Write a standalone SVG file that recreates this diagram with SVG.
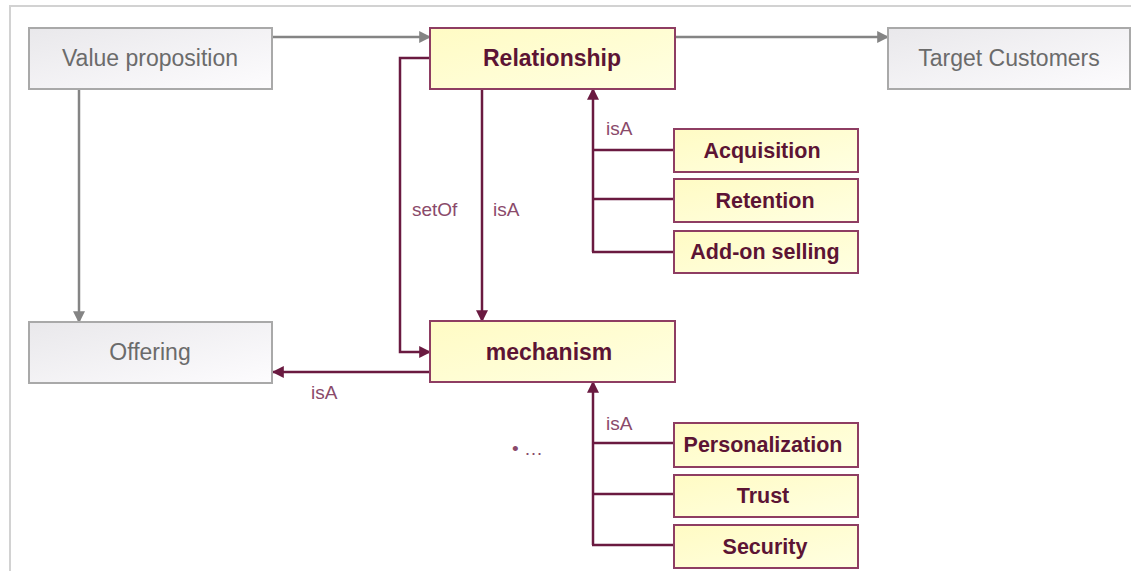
<svg xmlns="http://www.w3.org/2000/svg" width="1131" height="571" viewBox="0 0 1131 571">
  <defs>
    <linearGradient id="gGray" x1="0" y1="0" x2="1" y2="1">
      <stop offset="0" stop-color="#e9e8eb"/>
      <stop offset="1" stop-color="#fdfcfe"/>
    </linearGradient>
    <linearGradient id="gYellow" x1="0" y1="0" x2="1" y2="1">
      <stop offset="0" stop-color="#fffbc4"/>
      <stop offset="1" stop-color="#ffffe2"/>
    </linearGradient>
    <marker id="arrGray" viewBox="0 0 10 10" refX="9" refY="5" markerWidth="12" markerHeight="12" markerUnits="userSpaceOnUse" orient="auto">
      <path d="M0,0 L10,5 L0,10 z" fill="#848484"/>
    </marker>
    <marker id="arrRed" viewBox="0 0 10 10" refX="9" refY="5" markerWidth="12" markerHeight="12" markerUnits="userSpaceOnUse" orient="auto">
      <path d="M0,0 L10,5 L0,10 z" fill="#6a1a40"/>
    </marker>
  </defs>
  <style>
    .frame { fill: none; stroke: #d2d2d2; stroke-width: 2; }
    .grayBox { fill: url(#gGray); stroke: #a9a9a9; stroke-width: 2; }
    .yelBox { fill: url(#gYellow); stroke: #8e3d62; stroke-width: 2; }
    .grayTxt { font-family: "Liberation Sans", Arial, sans-serif; font-size: 23px; fill: #6b6b6b; text-anchor: middle; }
    .bigTxt { font-family: "Liberation Sans", Arial, sans-serif; font-size: 23px; font-weight: bold; fill: #5c1434; text-anchor: middle; }
    .smTxt { font-family: "Liberation Sans", Arial, sans-serif; font-size: 21.5px; font-weight: bold; fill: #5c1434; text-anchor: middle; }
    .lbl { font-family: "Liberation Sans", Arial, sans-serif; font-size: 19px; fill: #8a4a6a; }
    .gline { fill: none; stroke: #848484; stroke-width: 2.5; }
    .rline { fill: none; stroke: #6a1a40; stroke-width: 2.5; }
  </style>

  <rect width="1131" height="571" fill="#ffffff"/>
  <!-- outer frame: top and left edges only -->
  <path class="frame" d="M10,571 V6 H1131"/>

  <g id="connectors">
    <path class="gline" d="M272,37 H430" marker-end="url(#arrGray)"/>
    <path class="gline" d="M675,37 H888" marker-end="url(#arrGray)"/>
    <path class="gline" d="M79,89 V322" marker-end="url(#arrGray)"/>
    <path class="rline" d="M430,58 H400 V352 H430" marker-end="url(#arrRed)"/>
    <path class="rline" d="M482,89 V321" marker-end="url(#arrRed)"/>
    <path class="rline" d="M430,372 H273" marker-end="url(#arrRed)"/>
    <!-- isA tree: Relationship subtypes -->
    <path class="rline" d="M593,252 V89" marker-end="url(#arrRed)"/>
    <path class="rline" d="M593,150 H674 M593,199 H674 M592,252 H674"/>
    <!-- isA tree: mechanism subtypes -->
    <path class="rline" d="M593,545 V382" marker-end="url(#arrRed)"/>
    <path class="rline" d="M593,443 H674 M593,494 H674 M592,545 H674"/>
    <text class="lbl" x="412" y="216">setOf</text>
    <text class="lbl" x="493" y="216">isA</text>
    <text class="lbl" x="606" y="135">isA</text>
    <text class="lbl" x="311" y="399">isA</text>
    <text class="lbl" x="606" y="430">isA</text>
  </g>

  <g id="value-proposition">
    <rect class="grayBox" x="29" y="28" width="243" height="61"/>
    <text class="grayTxt" x="150" y="66">Value proposition</text>
  </g>
  <g id="relationship">
    <rect class="yelBox" x="430" y="28" width="245" height="61"/>
    <text class="bigTxt" x="552" y="66">Relationship</text>
  </g>
  <g id="target-customers">
    <rect class="grayBox" x="888" y="28" width="242" height="61"/>
    <text class="grayTxt" x="1009" y="66">Target Customers</text>
  </g>
  <g id="acquisition">
    <rect class="yelBox" x="674" y="129" width="184" height="43"/>
    <text class="smTxt" x="762" y="158">Acquisition</text>
  </g>
  <g id="retention">
    <rect class="yelBox" x="674" y="179" width="184" height="43"/>
    <text class="smTxt" x="765" y="208">Retention</text>
  </g>
  <g id="add-on-selling">
    <rect class="yelBox" x="674" y="231" width="184" height="42"/>
    <text class="smTxt" x="765" y="259">Add-on selling</text>
  </g>
  <g id="offering">
    <rect class="grayBox" x="29" y="322" width="243" height="61"/>
    <text class="grayTxt" x="150" y="360">Offering</text>
  </g>
  <g id="mechanism">
    <rect class="yelBox" x="430" y="321" width="245" height="61"/>
    <text class="bigTxt" x="549" y="360">mechanism</text>
  </g>
  <g id="personalization">
    <rect class="yelBox" x="674" y="423" width="184" height="44"/>
    <text class="smTxt" x="763" y="452">Personalization</text>
  </g>
  <g id="trust">
    <rect class="yelBox" x="674" y="475" width="184" height="42"/>
    <text class="smTxt" x="763" y="503">Trust</text>
  </g>
  <g id="security">
    <rect class="yelBox" x="674" y="525" width="184" height="43"/>
    <text class="smTxt" x="765" y="554">Security</text>
  </g>
  <g id="more">
    <text class="lbl" x="512" y="455" fill="#7a5a6a">• …</text>
  </g>
</svg>
